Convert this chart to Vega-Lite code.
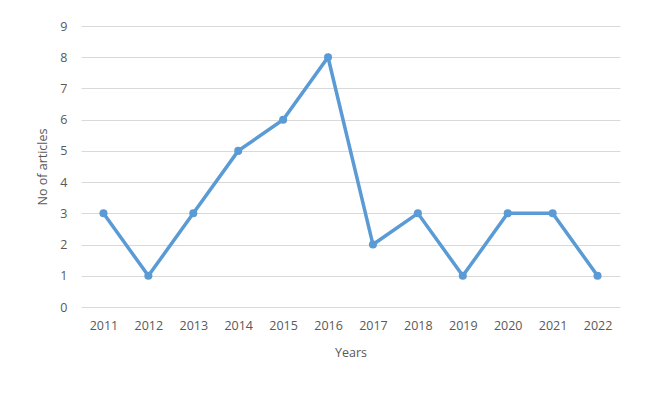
{
  "$schema": "https://vega.github.io/schema/vega-lite/v6.json",
  "width": 539,
  "height": 281,
  "autosize": {"type": "none"},
  "padding": {"left": 81, "top": 26, "right": 30, "bottom": 88},
  "background": "white",
  "config": {
    "view": {"stroke": null},
    "font": "Open Sans",
    "axis": {"labelColor": "#595959", "titleColor": "#595959", "labelFontSize": 12.5, "titleFontSize": 12.5, "titleFontWeight": "normal"}
  },
  "data": {
    "values": [
      {"year": "2011", "n": 3},
      {"year": "2012", "n": 1},
      {"year": "2013", "n": 3},
      {"year": "2014", "n": 5},
      {"year": "2015", "n": 6},
      {"year": "2016", "n": 8},
      {"year": "2017", "n": 2},
      {"year": "2018", "n": 3},
      {"year": "2019", "n": 1},
      {"year": "2020", "n": 3},
      {"year": "2021", "n": 3},
      {"year": "2022", "n": 1}
    ]
  },
  "mark": {"type": "line", "color": "#5B9BD5", "strokeWidth": 3.5, "point": {"filled": true, "size": 65, "color": "#5B9BD5"}},
  "encoding": {
    "x": {
      "field": "year", "type": "ordinal", "sort": null,
      "scale": {"padding": 0.5},
      "axis": {"title": "Years", "labelAngle": 0, "grid": false, "domain": false, "ticks": false, "labelPadding": 12, "titlePadding": 15}
    },
    "y": {
      "field": "n", "type": "quantitative",
      "scale": {"domain": [0, 9], "nice": false},
      "axis": {"title": "No of articles", "values": [0,1,2,3,4,5,6,7,8,9], "domain": false, "ticks": false, "gridColor": "#D9D9D9", "gridWidth": 1, "labelPadding": 14, "titlePadding": 10}
    }
  }
}
